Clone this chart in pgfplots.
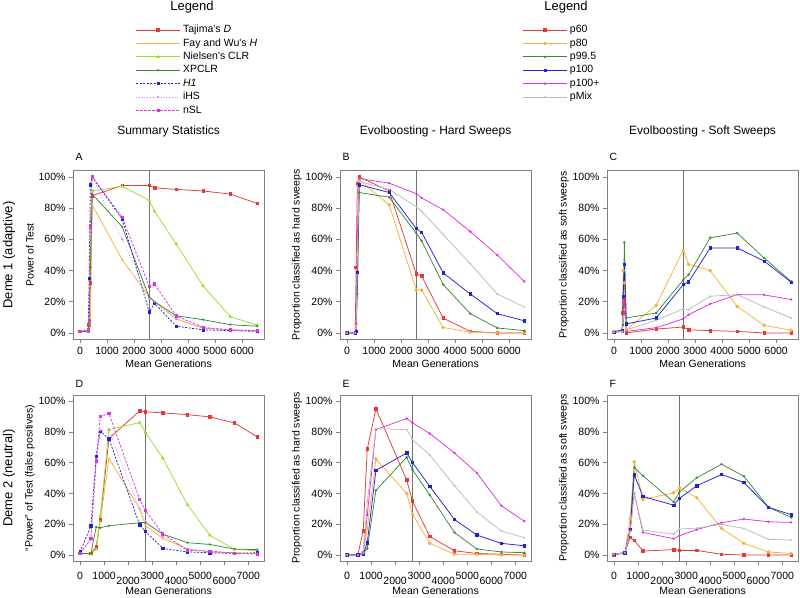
\documentclass[border=0pt]{standalone}
\usepackage{fontspec}
\setmainfont{Liberation Sans}
\usepackage{pgfplots}
\pgfplotsset{compat=1.18}
\usepackage{pgfplotstable}

\definecolor{cRed}{HTML}{E53935}
\definecolor{cOrange}{HTML}{F5B041}
\definecolor{cLGreen}{HTML}{99DD33}
\definecolor{cDGreen}{HTML}{3A8A3A}
\definecolor{cBlue}{HTML}{2222CC}
\definecolor{cLav}{HTML}{CC88EE}
\definecolor{cMag}{HTML}{DD33DD}
\definecolor{cGrey}{HTML}{BBBBBB}
\definecolor{cFrame}{HTML}{808080}
\definecolor{cVline}{HTML}{707070}

\newcommand{\tfont}{\fontsize{10.5}{12.6}\selectfont}
\newcommand{\cfont}{\fontsize{12}{14.4}\selectfont}
\newcommand{\bfont}{\fontsize{13}{15.6}\selectfont}

% top row generations
\pgfplotstableread{
gen   tajD  fwH   clr   xpclr hone  ihs   nsl
0     1     1     1     1     1     1     1
300   1     1     1     1     2     2     2
335   5     1     5     5     35    10    8
380   32    5     35    42    95    68    68
450   88    82    91    89    100   100   100
1560  94.5  47    94    68    73    60    74
2560  94.5  23    85    23    13.5  22    30
2760  93    20    78    20    19    20    31.4
3560  92    9     57    11    4.3   9     11
4560  91    3     30    8.5   2     3     3.5
5560  89    2     10.5  5.3   1.5   2     2
6560  83    1.5   5     4.3   1     1     1.5
}\tabA

\pgfplotstableread{
gen   pa    pb    pc    pd    pe    pf
0     0     0     0     0     0     0
300   0     0     0     0     0     0
335   42    5     1     1     6     3
380   96    50    25    39    65    50
450   100   98    90    95    99    97
1560  91    82    87    90    96    92
2560  38    27.5  64    67    89.3  81
2760  36.5  27.5  59    64.5  86.5  78
3560  9.5   3.5   31    38.5  79    63
4560  1     0.5   12.4  25    65    44.4
5560  0     0     3.2   12.4  50    25
6560  0     0     1.5   7.8   33    16.7
}\tabB

\pgfplotstableread{
gen   pa    pb    pc    pd    pe    pf
0     0.5   0.5   1     0.5   0.5   0.5
300   1.5   1     2     1.5   1     1
335   13    40    5     23    20    10
380   20    32    58    44    22    15
450   0     2     9.6   5.8   1     2
1560  2.5   17.7  12.8  9.6   3.4   8.1
2560  3.8   53    34    31    9     15.4
2760  2     44    37.4  32.7  11.7  15
3560  1.5   40    61    54.5  18.6  23.5
4560  1     17    64    54.5  24.6  24.6
5560  0     4.9   48    46    24.4  16.7
6560  0     1.7   33    32.5  21.4  9.6
}\tabC

% bottom row generations
\pgfplotstableread{
gen   tajD  fwH   clr   xpclr hone  ihs   nsl
0     1     1     1     1     2     1     1
450   1     1     0.5   1     19    10    10.6
670   5.4   4     3.7   18.2  64.2  61    61.2
840   23    22    25.3  17.7  80.4  81    90.2
1200  75.7  62.7  81.5  19    75.5  81    91.9
2480  93.6  30    86    21    19.5  30    36.1
2720  93    19    79.6  21.2  15.4  22    28.8
3440  92.3  10.8  63    13.6  4.3   12    13.8
4470  91.2  3.9   32.6  8     2     4     3
5400  89.7  2     12.8  6.9   1.5   2     2.6
6420  85.8  1.5   3.7   3.9   1     1     1.3
7370  76.8  1     2.8   3.5   1.5   1     0.6
}\tabD

\pgfplotstableread{
gen   pa    pb    pc    pd    pe    pf
0     0     0     0     0     0     0
450   0.5   0     0     0     0     0
670   15.6  1     1     0.5   2     1
840   68.9  17.4  4.3   8     26    34.8
1200  95    62.4  42    55    81.5  82
2480  48.7  40    63.5  66.3  88.7  81.5
2720  35    26.5  55.4  60    85.9  75
3440  12    7.6   39    44.6  78.9  65
4470  2.8   0.5   14.6  23    66.3  45
5400  1     0.5   3.9   13    53.3  28
6420  0.5   0     2     7.6   32    15.6
7370  0     0     1.5   6     22    11.3
}\tabE

\pgfplotstableread{
gen   pa    pb    pc    pd    pe    pf
0     0     0.5   0.5   0.5   0.5   0.5
450   1.5   1     1.5   1.5   1.5   1.5
670   11.5  23.6  17    16.6  16    15
840   9.5   60.5  56.9  52    40    40
1200  2.6   36.1  51.5  38    14.7  16.2
2480  3.5   40.4  34.4  32.4  10.6  13.6
2720  3     43.7  41    36.8  12.5  16.9
3440  3     37.2  50.2  45    16.6  17.5
4470  0.5   17.3  59    52.3  21    19.9
5400  0     7.6   51.2  47.1  23.4  17.3
6420  0     2     31.1  31    21.6  10.2
7370  0     1     24.4  26.2  21.2  9.7
}\tabF

\pgfplotsset{
  panel/.style={
    scale only axis, anchor=south west, width=191.3pt,
    ymin=-4, ymax=104, ytick={0,20,40,60,80,100},
    yticklabels={0\%,20\%,40\%,60\%,80\%,100\%},
    axis line style={draw=cFrame, line width=0.7pt},
    tick style={draw=cFrame, line width=0.7pt},
    tick align=outside, xtick pos=bottom, ytick pos=left,
    major tick length=4pt,
    tick label style={font=\tfont},
    label style={font=\tfont},
    xlabel={Mean Generations},
    ylabel style={at={(axis description cs:-0.2248,0.5)}, anchor=center},
    every axis plot/.append style={line width=0.75pt},
    legend image code/.code={\draw[mark repeat=2,mark phase=2,##1] plot coordinates {(0pt,0pt) (22pt,0pt) (44pt,0pt)};},
    legend style={draw=none, fill=none, inner sep=0pt, font=\tfont, anchor=north west,
      row sep=3.6pt, nodes={inner xsep=2.5pt, inner ysep=0pt, text height=7.6pt, text depth=2.2pt}},
    legend cell align=left,
  },
  toprow/.style={panel, height=168.5pt, xmin=-262.4, xmax=6822.4,
    xtick={0,1000,2000,3000,4000,5000,6000},
    xticklabels={0,1000,2000,3000,4000,5000,6000},
    xlabel style={at={(axis description cs:0.5,-0.147)}, anchor=center}},
  botrow/.style={panel, height=166.3pt, xmin=-294.8, xmax=7664.8,
    xtick={0,1000,3000,5000,7000},
    xticklabels={0,1000,3000,5000,7000},
    extra x ticks={2000,4000,6000},
    extra x tick labels={2000,4000,6000},
    extra x tick style={xticklabel style={yshift=-5pt}},
    xticklabel style={yshift=-3pt},
    xlabel style={at={(axis description cs:0.5,-0.179)}, anchor=center}},
  sTaj/.style={cRed, mark=square*, mark size=1.3pt},
  sFW/.style={cOrange, mark=*, mark size=0.6pt},
  sCLR/.style={cLGreen, mark=triangle*, mark size=1.4pt},
  sXP/.style={cDGreen, mark=*, mark size=0.7pt},
  sH1/.style={cBlue, dash pattern=on 2pt off 1.5pt, mark=square*, mark size=1.2pt, mark options={solid}},
  sIHS/.style={cLav, dotted, mark=*, mark size=0.7pt, mark options={solid}},
  sNSL/.style={cMag, dash pattern=on 2.5pt off 1.5pt, mark=square*, mark size=1.1pt, mark options={solid}},
  sP60/.style={cRed, mark=square*, mark size=1.3pt},
  sP80/.style={cOrange, mark=*, mark size=1.4pt},
  sP995/.style={cDGreen, mark=*, mark size=0.8pt},
  sP100/.style={cBlue, mark=square*, mark size=1.2pt},
  sP100p/.style={cMag, mark=*, mark size=0.8pt},
  sPmix/.style={cGrey, mark=*, mark size=0.5pt},
}

\begin{document}
\begin{tikzpicture}
\useasboundingbox (0,0) rectangle (800pt,597pt);

% legend titles and column titles
\node[font=\bfont] at (192pt,590pt) {Legend};
\node[font=\bfont] at (566pt,590pt) {Legend};
\node[font=\cfont] at (168.6pt,466pt) {Summary Statistics};
\node[font=\cfont] at (435.6pt,466pt) {Evolboosting - Hard Sweeps};
\node[font=\cfont] at (702.6pt,466pt) {Evolboosting - Soft Sweeps};
\node[font=\bfont, rotate=90] at (9pt,342pt) {Deme 1 (adaptive)};
\node[font=\bfont, rotate=90] at (9pt,119pt) {Deme 2 (neutral)};
\node[font=\tfont, anchor=west] at (72pt,440pt) {A};
\node[font=\tfont, anchor=west] at (339pt,440pt) {B};
\node[font=\tfont, anchor=west] at (606pt,440pt) {C};
\node[font=\tfont, anchor=west] at (72pt,213pt) {D};
\node[font=\tfont, anchor=west] at (339pt,213pt) {E};
\node[font=\tfont, anchor=west] at (606pt,213pt) {F};

% ---- A
\begin{axis}[toprow, at={(73pt,257.8pt)}, ylabel={Power of Test},
  legend style={at={(axis description cs:0.327,1.865)}}]
\addplot[cVline, line width=1.1pt, forget plot] coordinates {(2555,-4) (2555,104)};
\addplot[sTaj] table[x=gen,y=tajD]{\tabA};
\addplot[sFW] table[x=gen,y=fwH]{\tabA};
\addplot[sCLR] table[x=gen,y=clr]{\tabA};
\addplot[sXP] table[x=gen,y=xpclr]{\tabA};
\addplot[sH1] table[x=gen,y=hone]{\tabA};
\addplot[sIHS] table[x=gen,y=ihs]{\tabA};
\addplot[sNSL] table[x=gen,y=nsl]{\tabA};
\legend{Tajima\textquotesingle s \textit{D},Fay and Wu\textquotesingle s \textit{H},Nielsen\textquotesingle s CLR,XPCLR,\textit{H1},iHS,nSL}
\end{axis}

% ---- B
\begin{axis}[toprow, at={(340pt,257.8pt)}, ylabel={Proportion classified as hard sweeps},
  legend style={at={(axis description cs:0.954,1.865)}}]
\addplot[cVline, line width=1.1pt, forget plot] coordinates {(2555,-4) (2555,104)};
\addplot[sP60] table[x=gen,y=pa]{\tabB};
\addplot[sP80] table[x=gen,y=pb]{\tabB};
\addplot[sP995] table[x=gen,y=pc]{\tabB};
\addplot[sP100] table[x=gen,y=pd]{\tabB};
\addplot[sP100p] table[x=gen,y=pe]{\tabB};
\addplot[sPmix] table[x=gen,y=pf]{\tabB};
\legend{p60,p80,p99.5,p100,p100+,pMix}
\end{axis}

% ---- C
\begin{axis}[toprow, at={(607pt,257.8pt)}, ylabel={Proportion classified as soft sweeps}]
\addplot[cVline, line width=1.1pt] coordinates {(2555,-4) (2555,104)};
\addplot[sP60] table[x=gen,y=pa]{\tabC};
\addplot[sP80] table[x=gen,y=pb]{\tabC};
\addplot[sP995] table[x=gen,y=pc]{\tabC};
\addplot[sP100] table[x=gen,y=pd]{\tabC};
\addplot[sP100p] table[x=gen,y=pe]{\tabC};
\addplot[sPmix] table[x=gen,y=pf]{\tabC};
\end{axis}

% ---- D
\begin{axis}[botrow, at={(73pt,35.8pt)}, ylabel={``Power'' of Test (false positives)}]
\addplot[cVline, line width=1.1pt] coordinates {(2725,-4) (2725,104)};
\addplot[sTaj] table[x=gen,y=tajD]{\tabD};
\addplot[sFW] table[x=gen,y=fwH]{\tabD};
\addplot[sCLR] table[x=gen,y=clr]{\tabD};
\addplot[sXP] table[x=gen,y=xpclr]{\tabD};
\addplot[sH1] table[x=gen,y=hone]{\tabD};
\addplot[sIHS] table[x=gen,y=ihs]{\tabD};
\addplot[sNSL] table[x=gen,y=nsl]{\tabD};
\end{axis}

% ---- E
\begin{axis}[botrow, at={(340pt,35.8pt)}, ylabel={Proportion classified as hard sweeps}]
\addplot[cVline, line width=1.1pt] coordinates {(2725,-4) (2725,104)};
\addplot[sP60] table[x=gen,y=pa]{\tabE};
\addplot[sP80] table[x=gen,y=pb]{\tabE};
\addplot[sP995] table[x=gen,y=pc]{\tabE};
\addplot[sP100] table[x=gen,y=pd]{\tabE};
\addplot[sP100p] table[x=gen,y=pe]{\tabE};
\addplot[sPmix] table[x=gen,y=pf]{\tabE};
\end{axis}

% ---- F
\begin{axis}[botrow, at={(607pt,35.8pt)}, ylabel={Proportion classified as soft sweeps}]
\addplot[cVline, line width=1.1pt] coordinates {(2725,-4) (2725,104)};
\addplot[sP60] table[x=gen,y=pa]{\tabF};
\addplot[sP80] table[x=gen,y=pb]{\tabF};
\addplot[sP995] table[x=gen,y=pc]{\tabF};
\addplot[sP100] table[x=gen,y=pd]{\tabF};
\addplot[sP100p] table[x=gen,y=pe]{\tabF};
\addplot[sPmix] table[x=gen,y=pf]{\tabF};
\end{axis}
\end{tikzpicture}
\end{document}
